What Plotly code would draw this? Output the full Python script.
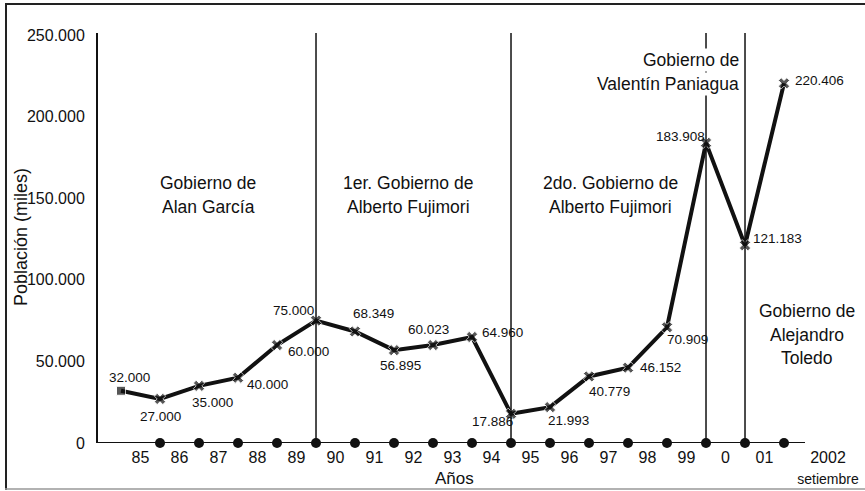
import plotly.graph_objects as go

# ---------------- data ----------------
year_labels = ["85", "86", "87", "88", "89", "90", "91", "92", "93", "94",
               "95", "96", "97", "98", "99", "0", "01"]
last_label = "2002"
last_label_sub = "setiembre"
values = [32000, 27000, 35000, 40000, 60000, 75000, 68349, 56895, 60023,
          64960, 17886, 21993, 40779, 46152, 70909, 183908, 121183, 220406]
point_idx = list(range(len(values)))
axis_dot_idx = list(range(1, 18))
axis_dot_vals = [0] * len(axis_dot_idx)
gov_change_idx = [5, 10, 15, 16]
y_ticks = [0, 50000, 100000, 150000, 200000, 250000]
gov_labels = [
    ["Gobierno de", "Alan García"],
    ["1er. Gobierno de", "Alberto Fujimori"],
    ["2do. Gobierno de", "Alberto Fujimori"],
    ["Gobierno de", "Valentín Paniagua"],
    ["Gobierno de", "Alejandro", "Toledo"],
]

# ---------------- layout geometry (pixels) ----------------
W, H = 865, 491
L, R, T, B = 98, 846, 33, 443
X0 = -0.59
PX_PER_X = 39.0
X1 = X0 + (R - L) / PX_PER_X
PX_PER_Y = (B - 35) / 250000.0
Y1 = (B - T) / PX_PER_Y


def px2x(px):
    return X0 + (px - L) / PX_PER_X


def py2y(py):
    return (B - py) / PX_PER_Y


def px2paper(px):
    return (px - L) / (R - L)


def py2paper(py):
    return (B - py) / (B - T)


FONT = "Liberation Sans, Arial, sans-serif"
INK = "#111111"

fig = go.Figure()

# axis dots
fig.add_trace(go.Scatter(
    x=axis_dot_idx, y=axis_dot_vals, mode="markers",
    marker=dict(symbol="circle", size=10, color=INK),
    cliponaxis=False, showlegend=False, hoverinfo="skip"))

# main line
symbols = ["square"] + ["x"] * (len(values) - 1)
sizes = [9] + [10] * (len(values) - 1)
fig.add_trace(go.Scatter(
    x=point_idx, y=values, mode="lines+markers",
    line=dict(color=INK, width=4),
    marker=dict(symbol=symbols, size=sizes, color=INK),
    cliponaxis=False, showlegend=False))

shapes = []
# x axis line
shapes.append(dict(type="line", xref="x", yref="y", x0=X0, x1=px2x(805),
                   y0=0, y1=0, line=dict(color=INK, width=2)))
# government separators
for gi in gov_change_idx:
    shapes.append(dict(type="line", xref="x", yref="paper", x0=gi, x1=gi,
                       y0=0, y1=1, line=dict(color=INK, width=1.5)))
# frame
shapes.append(dict(type="line", xref="paper", yref="paper",
                   x0=px2paper(6), x1=px2paper(6), y0=py2paper(3), y1=py2paper(490),
                   line=dict(color="#222", width=2)))
shapes.append(dict(type="line", xref="paper", yref="paper",
                   x0=px2paper(5), x1=px2paper(865), y0=py2paper(4), y1=py2paper(4),
                   line=dict(color="#222", width=2)))
shapes.append(dict(type="line", xref="paper", yref="paper",
                   x0=px2paper(5), x1=px2paper(865), y0=py2paper(489), y1=py2paper(489),
                   line=dict(color="#999", width=1.5)))

annotations = []
# value labels: pixel offsets of label center relative to point
label_offsets = [(8, -13), (0, 18), (13, 17), (29, 7), (31, 6), (-23, -10),
                 (18, -18), (6, 15), (-5, -16), (30, -4), (-19, 8), (18, 13),
                 (20, 15), (32, 0), (20, 12), (-26, -6), (32, -7), (35, -3)]
for i, v in zip(point_idx, values):
    dx, dy = label_offsets[i]
    annotations.append(dict(
        x=i, y=v, xref="x", yref="y", text=f"{v:,}".replace(",", "."),
        showarrow=False, xshift=dx, yshift=-dy,
        xanchor="center", yanchor="middle",
        font=dict(family=FONT, size=13.5, color=INK)))

# government labels: (center px, first line py, align)
gov_pos = [(208, 183, "center"), (408, 183, "center"), (610, 183, "center"),
           (741, 60, "right"), (807, 311, "center")]
for lines, (cx, cy, al) in zip(gov_labels, gov_pos):
    for k, line in enumerate(lines):
        a = dict(xref="x", yref="y", y=py2y(cy + 23.5 * k), text=line,
                 showarrow=False, yanchor="middle",
                 font=dict(family=FONT, size=17.5, color=INK))
        if al == "right":
            a.update(x=px2x(cx), xanchor="right", bgcolor="white")
        else:
            a.update(x=px2x(cx), xanchor="center")
        annotations.append(a)

# axis titles
annotations.append(dict(xref="paper", yref="paper", x=px2paper(21), y=py2paper(237),
                        xanchor="center", yanchor="middle",
                        text="Población (miles)", textangle=-90, showarrow=False,
                        font=dict(family=FONT, size=18, color=INK)))
annotations.append(dict(xref="paper", yref="paper", x=px2paper(454), y=py2paper(478),
                        xanchor="center", yanchor="middle",
                        text="Años", showarrow=False,
                        font=dict(family=FONT, size=17, color=INK)))

tickvals = [i + 0.5 for i in range(len(year_labels))] + [px2x(828)]
ticktext = year_labels + [f"{last_label}<br><span style='font-size:14px'>{last_label_sub}</span>"]

fig.update_layout(
    width=W, height=H,
    margin=dict(l=L, r=W - R, t=T, b=H - B, pad=0, autoexpand=False),
    paper_bgcolor="white", plot_bgcolor="white",
    separators=",.",
    shapes=shapes, annotations=annotations,
    xaxis=dict(range=[X0, X1], showgrid=False, zeroline=False, showline=False,
               automargin=False,
               tickvals=tickvals, ticktext=ticktext, ticks="",
               ticklabelstandoff=3,
               tickfont=dict(family=FONT, size=16, color=INK)),
    yaxis=dict(range=[0, Y1], showgrid=False, zeroline=False, showline=True,
               automargin=False,
               linecolor=INK, linewidth=2, tickvals=y_ticks, tickformat=",d",
               ticks="", ticklabelstandoff=8,
               tickfont=dict(family=FONT, size=16, color=INK)),
)

fig.write_html("out.html",
               config={"displayModeBar": False},
               post_script="document.body.style.margin='0';document.body.style.overflow='hidden';")
